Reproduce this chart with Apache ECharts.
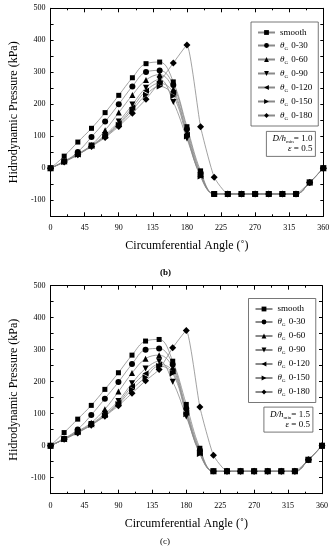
<!DOCTYPE html>
<html><head><meta charset="utf-8">
<script src="https://cdn.jsdelivr.net/npm/echarts@6/dist/echarts.min.js"></script>
<style>html,body{margin:0;padding:0;background:#fff}#c{width:333px;height:550px}</style>
</head><body><div id="c"></div>
<script>
const angles = [0,18,36,54,72,90,108,126,144,162,180,198,216,234,252,270,288,306,324,342,360];
const xTickLabels = [0,45,90,135,180,225,270,315,360];
const yTickLabels = [-100,0,100,200,300,400,500];
const seriesNames = ['smooth','θG 0-30','θG 0-60','θG 0-90','θG 0-120','θG 0-150','θG 0-180'];

// chart (b): D/hmin = 1.0
const b_smooth = [0,38,82,125,174,228,283,327,332,270,130,-8,-80,-80,-80,-80,-80,-80,-80,-44,0];
const b_030    = [0,21,51,98,146,200,256,301,306,260,122,-14,-80,-80,-80,-80,-80,-80,-80,-44,0];
const b_060    = [0,22,45,73,119,174,229,276,293,247,112,-18,-80,-80,-80,-80,-80,-80,-80,-44,0];
const b_090    = [0,21,44,71,104,146,199,252,278,207,93,-22,-80,-80,-80,-80,-80,-80,-80,-44,0];
const b_0120   = [0,21,43,70,101,140,190,242,266,236,105,-24,-80,-80,-80,-80,-80,-80,-80,-44,0];
const b_0150   = [0,20,42,69,99,136,182,230,256,226,99,-26,-80,-80,-80,-80,-80,-80,-80,-44,0];
const b_0180   = [0,20,42,68,96,131,172,216,270,329,385,130,-28,-80,-80,-80,-80,-80,-80,-44,0];

// chart (c): D/hmin = 1.5
const c_smooth = [0,41,83,126,176,228,283,327,332,264,129,-8,-80,-80,-80,-80,-80,-80,-80,-44,0];
const c_030    = [0,22,51,96,147,199,255,300,304,254,116,-14,-80,-80,-80,-80,-80,-80,-80,-44,0];
const c_060    = [0,22,45,72,114,169,227,272,283,244,108,-18,-80,-80,-80,-80,-80,-80,-80,-44,0];
const c_090    = [0,21,43,68,100,140,195,241,264,200,91,-22,-80,-80,-80,-80,-80,-80,-80,-44,0];
const c_0120   = [0,20,42,66,96,134,186,226,254,233,103,-24,-80,-80,-80,-80,-80,-80,-80,-44,0];
const c_0150   = [0,20,41,65,94,130,176,214,249,226,98,-26,-80,-80,-80,-80,-80,-80,-80,-44,0];
const c_0180   = [0,20,40,64,92,125,164,203,238,306,360,121,-30,-80,-80,-80,-80,-80,-80,-44,0];

const bData = [b_smooth,b_030,b_060,b_090,b_0120,b_0150,b_0180];
const cData = [c_smooth,c_030,c_060,c_090,c_0120,c_0150,c_0180];

const FONT = 'Liberation Serif';
const symbols = [
  'rect','circle','triangle',
  'path://M0,0 L10,0 L5,9 Z',
  'path://M10,0 L0,5 L10,10 Z',
  'path://M0,0 L10,5 L0,10 Z',
  'diamond'
];
const sizes = [5,6,6,6,6,6,7];
const smoothness = [0.4,0.4,0.4,0.4,0.4,0.4,0.15];

function pairs(arr){ return angles.map((a,i)=>[a,arr[i]]); }

function makeSeries(data, gi){
  return data.map((arr,k)=>({
    type:'line', name: seriesNames[k], xAxisIndex: gi*2, yAxisIndex: gi*2,
    data: pairs(arr), smooth: smoothness[k], symbol: symbols[k], symbolSize: sizes[k],
    showAllSymbol: true,
    lineStyle:{color:'#8a8a8a', width:0.8},
    itemStyle:{color:'#000'},
    emphasis:{disabled:true}, animation:false, z: 3
  }));
}

function xAxes(gi){
  const base = {type:'value', gridIndex: gi, min:0, max:360, interval:45,
    axisLine:{show:true, onZero:false, lineStyle:{color:'#000', width:1}},
    axisTick:{show:true, inside:true, length:4, lineStyle:{color:'#000'}},
    minorTick:{show:true, splitNumber:2, length:2, lineStyle:{color:'#000'}},
    splitLine:{show:false}};
  return [
    Object.assign({}, base, {position:'bottom',
      axisLabel:{show:true, fontFamily:FONT, fontSize:8, color:'#000', margin:8,
        formatter: v => xTickLabels.includes(v) ? String(v) : ''},
      name:'Circumferential Angle (˚)', nameLocation:'middle', nameGap:24,
      nameTextStyle:{fontFamily:FONT, fontSize:12, color:'#000'}}),
    Object.assign({}, base, {position:'top', axisLabel:{show:false}})
  ];
}
function yAxes(gi){
  const base = {type:'value', gridIndex: gi, min:-150, max:500, interval:50,
    axisLine:{show:true, onZero:false, lineStyle:{color:'#000', width:1}},
    axisTick:{show:true, inside:true, length:3, lineStyle:{color:'#000'}},
    splitLine:{show:false}};
  return [
    Object.assign({}, base, {position:'left',
      axisLabel:{show:true, fontFamily:FONT, fontSize:8, color:'#000', margin:5,
        formatter: v => yTickLabels.includes(v) ? String(v) : ''},
      name:'Hidrodynamic Pressure (kPa)', nameLocation:'middle', nameGap:27, nameRotate:90,
      nameTextStyle:{fontFamily:FONT, fontSize:12, color:'#000'}}),
    Object.assign({}, base, {position:'right', axisLabel:{show:false}})
  ];
}

const legendRich = {
  t:{fontFamily:FONT, fontSize:9, fontStyle:'italic', color:'#000', lineHeight:11, verticalAlign:'middle'},
  s:{fontFamily:FONT, fontSize:5, color:'#000', lineHeight:11, verticalAlign:'bottom', padding:[0,1,0,0]},
  n:{fontFamily:FONT, fontSize:9, color:'#000', lineHeight:11, verticalAlign:'middle'}
};
function legendFmt(name){
  if(name==='smooth') return '{n|smooth}';
  return '{t|θ}{s|G}{n| ' + name.slice(3) + '}';
}
function legend(left, top){
  return {orient:'vertical', left:left, top:top, itemWidth:17, itemHeight:6, itemGap:4,
    padding:[6,6,5,6], borderColor:'#555', borderWidth:0.8, backgroundColor:'#fff',
    data: seriesNames, selectedMode:false, formatter: legendFmt,
    textStyle:{fontFamily:FONT, fontSize:9, color:'#000', rich: legendRich}};
}

const paramRich = {
  i:{fontFamily:FONT, fontSize:9, fontStyle:'italic', fill:'#000'},
  s:{fontFamily:FONT, fontSize:5, fill:'#000', padding:[6,0,0,0]},
  n:{fontFamily:FONT, fontSize:9, fill:'#000'}
};
function paramBox(x, y, w, h, dval){
  return {type:'group', left:x, top:y, children:[
    {type:'rect', shape:{x:0,y:0,width:w,height:h}, style:{fill:'#fff', stroke:'#555', lineWidth:0.8}},
    {type:'text', x:w-3, y:2, style:{text:'{i|D/h}{s|min}{n|= '+dval+'}', rich:paramRich, align:'right', fontFamily:FONT, fontSize:9}},
    {type:'text', x:w-3, y:13, style:{text:'{i|ε}{n| = 0.5}', rich:paramRich, align:'right', fontFamily:FONT, fontSize:9}}
  ]};
}

const chart = echarts.init(document.getElementById('c'), null, {renderer:'canvas'});
chart.setOption({
  animation:false,
  backgroundColor:'#fff',
  grid:[
    {left:42.3, top:8.3, width:281, height:208},
    {left:42.5, top:285.7, width:279.5, height:208}
  ],
  xAxis:[...xAxes(0), ...xAxes(1)],
  yAxis:[...yAxes(0), ...yAxes(1)],
  legend:[legend(251, 22), legend(248.5, 298.5)],
  series:[...makeSeries(bData,0), ...makeSeries(cData,1)],
  graphic:[
    paramBox(266, 131, 49, 25, '1.0'),
    paramBox(263.5, 406.7, 49, 25, '1.5'),
    {type:'text', left:160, top:268, style:{text:'(b)', fontFamily:FONT, fontSize:9, fontWeight:'bold', fill:'#000'}},
    {type:'text', left:160, top:537, style:{text:'(c)', fontFamily:FONT, fontSize:9, fill:'#000'}}
  ]
});
</script></body></html>
